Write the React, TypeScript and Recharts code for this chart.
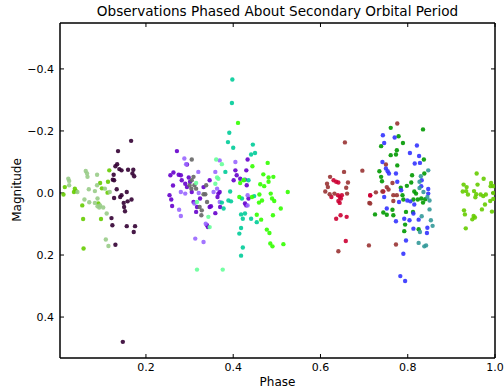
import React from 'react';
import { ScatterChart, Scatter, XAxis, YAxis, ReferenceArea } from 'recharts';

const xTicks = [0.2, 0.4, 0.6, 0.8, 1.0];
const yTicks = [-0.4, -0.2, 0.0, 0.2, 0.4];
const xDomain: [number, number] = [0.003, 1.0];
const yDomain: [number, number] = [-0.548, 0.532];

const lime: [number, number][] = [
  [0.014, -0.019], [0.011, 0.005], [0.037, -0.014], [0.035, -0.003], [0.040, -0.006],
  [0.054, 0.040], [0.056, 0.084], [0.057, 0.179], [0.097, 0.084], [0.095, -0.032],
  [0.099, -0.015], [0.113, -0.036], [0.116, -0.073], [0.112, -0.001], [0.091, 0.034],
  [0.958, -0.063], [0.974, -0.046], [0.928, -0.027], [0.935, -0.019], [0.926, -0.005],
  [0.934, -0.006], [0.938, 0.005], [0.952, -0.006], [0.957, 0.004], [0.955, 0.014],
  [0.960, -0.027], [0.967, 0.005], [0.973, 0.010], [0.979, 0.005], [0.991, -0.032],
  [0.990, -0.022], [0.996, -0.022], [0.996, 0.0], [0.989, 0.026], [0.996, 0.019],
  [0.977, 0.037], [0.970, 0.053], [0.929, 0.056], [0.931, 0.069], [0.951, 0.074],
  [0.948, 0.085], [0.954, 0.079], [0.993, 0.060], [0.933, 0.114],
];

const paleGreen: [number, number][] = [
  [0.022, -0.046], [0.024, -0.039], [0.024, -0.025], [0.043, -0.003], [0.062, -0.071],
  [0.065, -0.063], [0.066, -0.052], [0.088, -0.059], [0.069, -0.012], [0.083, -0.006],
  [0.088, -0.025], [0.106, -0.014], [0.117, -0.003], [0.059, 0.021], [0.070, 0.030],
  [0.083, 0.032], [0.089, 0.018], [0.093, 0.047], [0.095, 0.040], [0.102, 0.047],
  [0.110, 0.066], [0.108, 0.150], [0.114, 0.171], [0.089, 0.043],
];

const darkPurple: [number, number][] = [
  [0.166, -0.168], [0.136, -0.135], [0.134, -0.093], [0.130, -0.086], [0.139, -0.077],
  [0.144, -0.073], [0.126, -0.059], [0.124, -0.043], [0.127, -0.041], [0.159, -0.075],
  [0.171, -0.075], [0.169, -0.063], [0.173, -0.054], [0.133, -0.012], [0.156, -0.003],
  [0.144, 0.007], [0.141, 0.013], [0.127, 0.016], [0.158, 0.027], [0.167, 0.021],
  [0.149, 0.032], [0.150, 0.045], [0.152, 0.059], [0.121, 0.081], [0.123, 0.104],
  [0.156, 0.107], [0.175, 0.107], [0.172, 0.126], [0.130, 0.167], [0.147, 0.480],
];

const purple: [number, number][] = [
  [0.271, -0.135], [0.263, -0.066], [0.256, -0.057], [0.275, -0.059], [0.280, -0.057],
  [0.294, -0.092], [0.262, -0.024], [0.282, -0.041], [0.290, -0.030], [0.298, -0.050],
  [0.301, -0.036], [0.294, -0.019], [0.254, 0.007], [0.258, 0.021], [0.260, 0.042],
  [0.305, -0.003], [0.309, 0.029], [0.317, 0.045], [0.315, 0.061], [0.324, 0.018],
  [0.332, -0.019], [0.346, -0.041], [0.340, 0.104], [0.342, 0.110], [0.346, 0.045],
  [0.349, 0.043], [0.359, 0.065], [0.364, 0.013], [0.366, 0.002], [0.369, -0.003],
  [0.405, -0.073], [0.408, -0.057], [0.401, -0.041], [0.430, -0.073], [0.433, -0.108],
  [0.416, -0.046], [0.427, -0.043], [0.431, -0.025], [0.427, 0.034], [0.430, 0.040],
  [0.435, 0.018], [0.370, 0.045],
];

const lightPurple: [number, number][] = [
  [0.288, -0.111], [0.292, -0.093], [0.320, -0.068], [0.280, -0.003], [0.290, 0.002],
  [0.321, 0.0], [0.311, 0.034], [0.276, 0.054], [0.280, 0.074], [0.337, 0.099],
  [0.313, 0.147], [0.332, 0.158], [0.359, -0.068], [0.369, -0.105], [0.363, -0.014],
  [0.369, 0.029], [0.355, -0.003], [0.405, -0.100], [0.433, 0.007], [0.433, 0.040],
];

const gray: [number, number][] = [
  [0.305, -0.108], [0.305, -0.041], [0.309, -0.052], [0.300, -0.025], [0.311, -0.025],
  [0.304, -0.014], [0.315, -0.014], [0.332, 0.004], [0.336, 0.004], [0.340, 0.029],
  [0.323, 0.045], [0.328, 0.056], [0.327, 0.072], [0.338, -0.025],
];

const mint: [number, number][] = [
  [0.361, -0.108], [0.374, -0.093], [0.366, -0.046], [0.359, -0.030], [0.315, -0.032],
  [0.317, 0.029], [0.343, 0.077], [0.346, 0.110], [0.317, 0.247], [0.376, 0.247],
  [0.363, -0.050], [0.424, -0.043],
];

const teal: [number, number][] = [
  [0.398, -0.366], [0.397, -0.290], [0.391, -0.194], [0.388, -0.164], [0.400, -0.146],
  [0.445, -0.156], [0.450, -0.129], [0.441, -0.124], [0.382, -0.068], [0.435, -0.041],
  [0.393, -0.005], [0.389, 0.024], [0.395, 0.027], [0.374, 0.031], [0.378, 0.050],
  [0.420, 0.018], [0.418, 0.069], [0.422, 0.083], [0.427, 0.066], [0.441, 0.083],
  [0.454, 0.094], [0.448, 0.010], [0.418, 0.113], [0.414, 0.131], [0.422, 0.176],
  [0.418, 0.202],
];

const brightGreen: [number, number][] = [
  [0.411, -0.226], [0.444, -0.086], [0.479, -0.097], [0.469, -0.060], [0.481, -0.050],
  [0.492, -0.052], [0.481, -0.036], [0.462, -0.028], [0.471, -0.022], [0.424, -0.041],
  [0.416, -0.032], [0.414, 0.013], [0.443, 0.013], [0.460, 0.005], [0.486, 0.002],
  [0.489, 0.018], [0.494, 0.026], [0.466, 0.024], [0.459, 0.031], [0.525, -0.003],
  [0.509, 0.050], [0.491, 0.072], [0.454, 0.070], [0.464, 0.086], [0.477, 0.118],
  [0.483, 0.129], [0.485, 0.163], [0.490, 0.172], [0.515, 0.165],
];

const crimson: [number, number][] = [
  [0.630, -0.041], [0.636, -0.036], [0.641, -0.034], [0.625, 0.013], [0.640, 0.007],
  [0.644, 0.013], [0.647, 0.018], [0.641, 0.026], [0.644, 0.032], [0.649, 0.007],
  [0.636, 0.083], [0.646, 0.072], [0.660, 0.077], [0.658, 0.155], [0.714, 0.008],
  [0.714, 0.007], [0.744, -0.005],
];

const brown: [number, number][] = [
  [0.656, -0.163], [0.654, -0.068], [0.696, -0.072], [0.622, -0.052], [0.615, -0.030],
  [0.611, -0.005], [0.617, -0.019], [0.621, 0.004], [0.632, 0.002], [0.661, 0.002],
  [0.659, -0.017], [0.663, -0.034], [0.727, -0.002], [0.712, 0.032], [0.711, 0.169],
  [0.641, 0.188], [0.776, -0.224], [0.750, -0.092], [0.742, -0.005], [0.752, -0.019],
  [0.756, -0.011], [0.765, -0.032], [0.767, 0.007], [0.775, 0.007], [0.767, 0.026],
  [0.714, 0.034], [0.773, 0.166],
];

const green: [number, number][] = [
  [0.761, -0.210], [0.835, -0.205], [0.779, -0.183], [0.739, -0.151], [0.789, -0.161],
  [0.775, -0.138], [0.761, -0.122], [0.773, -0.124], [0.837, -0.108], [0.776, -0.089],
  [0.735, -0.070], [0.838, -0.063], [0.739, -0.052], [0.741, -0.038], [0.810, -0.057],
  [0.808, -0.034], [0.798, -0.023], [0.784, -0.017], [0.788, 0.007], [0.815, -0.005],
  [0.819, 0.002], [0.813, 0.021], [0.823, 0.021], [0.831, 0.018], [0.835, 0.031],
  [0.840, 0.020], [0.790, 0.021], [0.765, 0.054], [0.744, 0.063], [0.752, 0.070],
  [0.767, 0.072], [0.725, 0.069], [0.796, 0.061], [0.812, 0.061], [0.794, 0.102],
  [0.792, 0.123], [0.825, 0.117],
];

const blue: [number, number][] = [
  [0.743, -0.186], [0.770, -0.179], [0.746, -0.161], [0.821, -0.153], [0.805, -0.129],
  [0.826, -0.119], [0.816, -0.095], [0.828, -0.097], [0.742, -0.100], [0.750, -0.079],
  [0.754, -0.070], [0.757, -0.063], [0.773, -0.063], [0.776, -0.036], [0.785, -0.009],
  [0.780, 0.029], [0.746, 0.013], [0.799, 0.024], [0.806, 0.027], [0.815, 0.037],
  [0.832, -0.041], [0.831, -0.022], [0.847, -0.013], [0.847, 0.002], [0.752, 0.050],
  [0.773, 0.091], [0.792, 0.083], [0.804, 0.088], [0.813, 0.066], [0.825, 0.086],
  [0.813, 0.115], [0.844, 0.129], [0.845, 0.112], [0.796, 0.153], [0.790, 0.196],
  [0.783, 0.268], [0.794, 0.284],
];

const darkTeal: [number, number][] = [
  [0.847, -0.073], [0.830, -0.054], [0.827, -0.036], [0.836, -0.003], [0.845, 0.013],
  [0.850, 0.024], [0.850, 0.053], [0.832, 0.075], [0.853, 0.088], [0.857, 0.106],
  [0.828, 0.126], [0.825, 0.161], [0.842, 0.169], [0.838, 0.172], [0.827, -0.016],
];

const seriesList: { name: string; color: string; pts: [number, number][] }[] = [
  { name: 'lime', color: '#66cc00', pts: lime },
  { name: 'paleGreen', color: '#99cc88', pts: paleGreen },
  { name: 'darkPurple', color: '#330033', pts: darkPurple },
  { name: 'purple', color: '#6600cc', pts: purple },
  { name: 'lightPurple', color: '#9966ff', pts: lightPurple },
  { name: 'gray', color: '#666666', pts: gray },
  { name: 'mint', color: '#66ff99', pts: mint },
  { name: 'teal', color: '#00cc99', pts: teal },
  { name: 'brightGreen', color: '#33ff00', pts: brightGreen },
  { name: 'crimson', color: '#cc0033', pts: crimson },
  { name: 'brown', color: '#993333', pts: brown },
  { name: 'green', color: '#009900', pts: green },
  { name: 'blue', color: '#3333ff', pts: blue },
  { name: 'darkTeal', color: '#339999', pts: darkTeal },
];

const FONT = '"DejaVu Sans", sans-serif';
const fmt = (v: number) => v.toFixed(1).replace('-', '\u2212');
const blank = () => '';

export default function App() {
  return (
    <div style={{ position: 'absolute', left: 0, top: 0, width: 504, height: 392, background: '#fff', fontFamily: FONT }}>
      <div style={{ position: 'absolute', left: 60, width: 435, top: 3, textAlign: 'center', fontSize: 13.6, color: '#000', whiteSpace: 'nowrap' }}>
        Observations Phased About Secondary Orbital Period
      </div>
      <div style={{ position: 'absolute', left: 60, width: 435, top: 375, textAlign: 'center', fontSize: 12, color: '#000' }}>
        Phase
      </div>
      <div style={{ position: 'absolute', left: 17, top: 190, transform: 'translate(-50%, -50%) rotate(-90deg)', fontSize: 12, color: '#000', whiteSpace: 'nowrap' }}>
        Magnitude
      </div>
      <ScatterChart width={504} height={392} margin={{ top: 22, right: 8, bottom: 0, left: 0 }} style={{ position: 'absolute', left: 0, top: 0 }}>
        <XAxis
          xAxisId={0}
          type="number"
          dataKey="x"
          domain={xDomain}
          ticks={xTicks}
          allowDataOverflow
          height={34}
          tickSize={-4}
          tickMargin={9}
          tickFormatter={fmt}
          tick={{ fill: '#000', fontSize: 11, fontFamily: FONT }}
          axisLine={{ stroke: '#000' }}
          tickLine={{ stroke: '#000' }}
        />
        <XAxis
          xAxisId="top"
          orientation="top"
          type="number"
          dataKey="x"
          domain={xDomain}
          ticks={xTicks}
          allowDataOverflow
          height={1}
          tickSize={-4}
          tickFormatter={blank}
          axisLine={{ stroke: '#000' }}
          tickLine={{ stroke: '#000' }}
        />
        <YAxis
          yAxisId={0}
          type="number"
          dataKey="y"
          domain={yDomain}
          reversed
          ticks={yTicks}
          allowDataOverflow
          width={60}
          tickSize={-4}
          tickMargin={10}
          tickFormatter={fmt}
          tick={{ fill: '#000', fontSize: 11, fontFamily: FONT }}
          axisLine={{ stroke: '#000' }}
          tickLine={{ stroke: '#000' }}
        />
        <YAxis
          yAxisId="right"
          orientation="right"
          type="number"
          dataKey="y"
          domain={yDomain}
          reversed
          ticks={yTicks}
          allowDataOverflow
          width={1}
          tickSize={-4}
          tickFormatter={blank}
          axisLine={{ stroke: '#000' }}
          tickLine={{ stroke: '#000' }}
        />
        <ReferenceArea
          x1={xDomain[0]}
          x2={xDomain[1]}
          y1={yDomain[0]}
          y2={yDomain[1]}
          fill="none"
          stroke="#000"
          strokeWidth={1}
          ifOverflow="visible"
        />
        <Scatter
          name="frame"
          xAxisId="top"
          yAxisId="right"
          data={lime.map(([x, y]) => ({ x, y }))}
          fill="none"
          isAnimationActive={false}
          shape={() => <g />}
        />
        {seriesList.map((s) => (
          <Scatter
            key={s.name}
            name={s.name}
            data={s.pts.map(([x, y]) => ({ x, y }))}
            fill={s.color}
            isAnimationActive={false}
            shape={(p: any) => <circle cx={p.cx} cy={p.cy} r={2.2} fill={s.color} fillOpacity={0.9} />}
          />
        ))}
      </ScatterChart>
    </div>
  );
}
